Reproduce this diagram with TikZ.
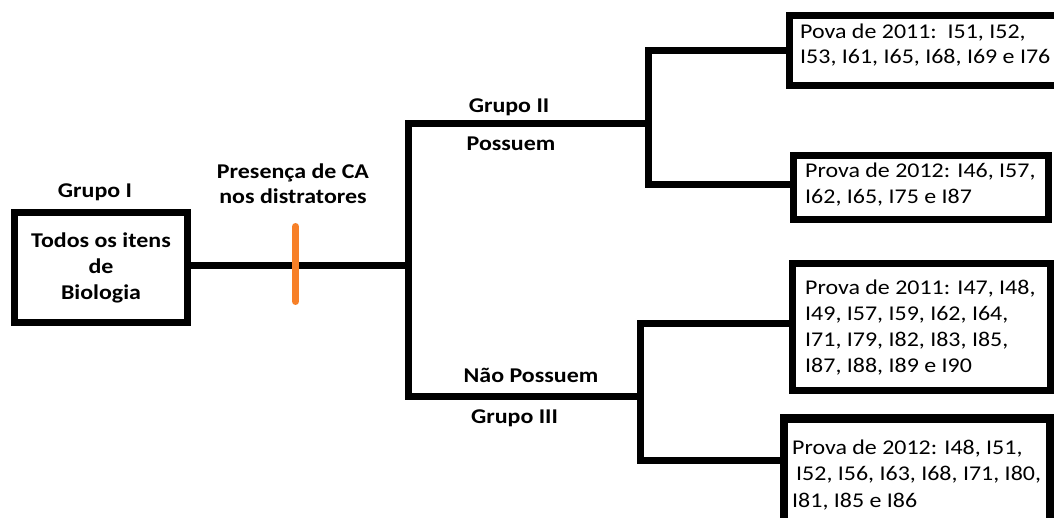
\documentclass[tikz,border=0pt]{standalone}
\usepackage{fontspec}
\setmainfont{Carlito}[FakeStretch=1.14]
\definecolor{barorange}{RGB}{247,128,40}
\begin{document}
\begin{tikzpicture}[x=1pt,y=-1pt,
  boxnode/.style={draw, line width=7pt, rectangle, inner sep=0pt},
  conn/.style={line width=7pt, line join=miter},
  lbl/.style={font=\fontsize{21}{25}\selectfont\bfseries, inner sep=0pt, anchor=base},
  boxtext/.style={align=left, inner sep=0pt, anchor=base west, font=\fontsize{21}{25.5}\selectfont},
  orangebar/.style={line width=7pt, line cap=round, draw=barorange},
]
\useasboundingbox (0,0) rectangle (1054,518);
\clip (0,0) rectangle (1054,518);

% boxes
\node[boxnode, minimum width=173pt, minimum height=110.5pt, align=center,
      font=\fontsize{21}{26}\selectfont\bfseries] (g1) at (101,267.5) {Todos os itens\\de\\Biologia};
\node[boxnode, minimum width=280.5pt, minimum height=70pt] (box1) at (929.75,51) {};
\node[boxnode, minimum width=255pt, minimum height=64pt] (box2) at (920.5,187.5) {};
\node[boxnode, minimum width=258.5pt, minimum height=126.5pt] (box3) at (921.25,327.25) {};
\node[boxnode, line width=8.5pt, minimum width=266.5pt, minimum height=121.5pt] (box4) at (917.25,479.25) {};

% box texts (anchor = baseline of last line)
\node[boxtext] (t1) at (800,64) {Pova de 2011:\ \ I51, I52,\\I53, I61, I65, I68, I69 e I76};
\node[boxtext, font=\fontsize{21}{26}\selectfont] (t2) at (805,204) {Prova de 2012: I46, I57,\\I62, I65, I75 e I87};
\node[boxtext, font=\fontsize{21}{25.7}\selectfont] (t3) at (805,372) {Prova de 2011: I47, I48,\\I49, I57, I59, I62, I64,\\I71, I79, I82, I83, I85,\\I87, I88, I89 e I90};
\node[boxtext, font=\fontsize{21}{26.5}\selectfont] (t4) at (792,507) {Prova de 2012: I48, I51,\\\hspace*{4pt}I52, I56, I63, I68, I71, I80,\\I81, I85 e I86};

% labels
\node[lbl] (grupoI) at (95,198) {Grupo I};
\node[lbl, align=center] (presenca) at (293,204) {Presença de CA\\nos distratores};
\node[lbl] (grupoII) at (509,113) {Grupo II};
\node[lbl] (possuem) at (511,151) {Possuem};
\node[lbl] (naopossuem) at (531,382) {Não Possuem};
\node[lbl] (grupoIII) at (514.5,423) {Grupo III};

% connector points
\coordinate (t) at (408,266);
\coordinate (t2) at (408,124);
\coordinate (t3) at (408,396);
\coordinate (b2) at (648.5,124);
\coordinate (b3) at (640.5,396);
\coordinate (ob1) at (295.5,226.5);
\coordinate (ob2) at (295.5,301.5);

% connectors
\draw[conn] (g1.east |- t) -- (t);
\draw[conn] (b2) -- (t2) -- (t3) -- (b3);
\draw[conn] (box1.west) -| (b2) |- ([yshift=3pt]box2.west);
\draw[conn] ([yshift=4pt]box3.west) -| (b3) |- ([yshift=-46pt]box4.north west);
\draw[orangebar] (ob1) -- (ob2);
\end{tikzpicture}
\end{document}
